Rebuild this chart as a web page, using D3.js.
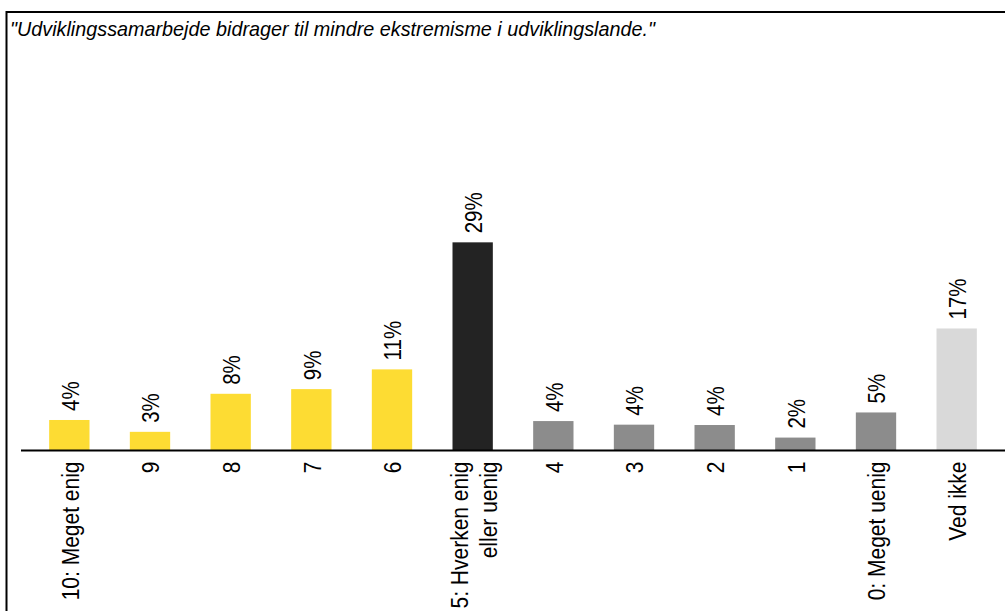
<!DOCTYPE html>
<html>
<head>
<meta charset="utf-8">
<script src="https://cdn.jsdelivr.net/npm/d3@7"></script>
<style>
  body { margin: 0; background: #fff; }
  svg text { font-family: "Liberation Sans", Arial, Helvetica, sans-serif; fill: #000; }
</style>
</head>
<body>
<div id="chart"></div>
<script>
const TITLE = "\"Udviklingssamarbejde bidrager til mindre ekstremisme i udviklingslande.\"";

const categories = [
  "10: Meget enig", "9", "8", "7", "6", "5: Hverken enig\neller uenig",
  "4", "3", "2", "1", "0: Meget uenig", "Ved ikke"
];
const values = [4.25, 2.6, 7.9, 8.55, 11.3, 29.0, 4.1, 3.6, 3.55, 1.8, 5.3, 17.0];
const groups = ["enig", "enig", "enig", "enig", "enig", "neutral",
  "uenig", "uenig", "uenig", "uenig", "uenig", "vedikke"];

let width = 1005
let height = 611
let baseY = 450.5
// glyphs in the reference look a bit wider across the rotated texts
let stretch = 1.15

svg = d3.select("#chart")
  .append("svg")
  .attr("width", width)
  .attr("height", height);

// frame (only the top and left edges fall inside the picture)
svg.append("rect")
  .attr("x", 6.5)
  .attr("y", 12)
  .attr("width", 1200)
  .attr("height", 800)
  .attr("fill", "none")
  .attr("stroke", "#000")
  .attr("stroke-width", 2);

svg.append("text")
  .attr("x", 10)
  .attr("y", 36)
  .attr("textLength", 645)
  .attr("lengthAdjust", "spacingAndGlyphs")
  .style("font-size", "21px")
  .style("font-style", "italic")
  .text(TITLE);

x = d3.scaleBand()
  .domain(categories)
  .range([29, 997])
  .paddingInner(0.5)
  .paddingOuter(0.25);

y = d3.scaleLinear()
  .domain([0, 59])
  .range([baseY, 27]);

color = d3.scaleOrdinal()
  .domain(["enig", "neutral", "uenig", "vedikke"])
  .range(["#fddc33", "#232323", "#8c8c8c", "#d9d9d9"]);

svg.selectAll("rect.bar")
  .data(values)
  .join("rect")
  .attr("class", "bar")
  .attr("x", (d, i) => x(categories[i]))
  .attr("width", x.bandwidth())
  .attr("y", d => y(d))
  .attr("height", d => y(0) - y(d))
  .attr("fill", (d, i) => color(groups[i]));

// value labels
svg.selectAll("text.val")
  .data(values)
  .join("text")
  .attr("class", "val")
  .attr("transform", (d, i) => `translate(${x(categories[i]) + x.bandwidth() / 2 + 1},${y(d) - 9})scale(${stretch},1)rotate(-90)`)
  .attr("dy", "0.35em")
  .style("font-size", "20.5px")
  .text(d => Math.round(d) + "%");

// baseline
svg.append("line")
  .attr("x1", 21)
  .attr("x2", width)
  .attr("y1", baseY)
  .attr("y2", baseY)
  .attr("stroke", "#000")
  .attr("stroke-width", 2);

// category labels
let labels = svg.selectAll("text.cat")
  .data(categories)
  .join("text")
  .attr("class", "cat")
  .attr("transform", d => `translate(${x(d) + x.bandwidth() / 2 + 1},${baseY + 11})scale(${stretch},1)rotate(-90)`)
  .style("font-size", "21px")
  .attr("text-anchor", "end");

labels.each(function(d) {
  let lines = d.split("\n");
  let t = d3.select(this);
  lines.forEach((line, j) => {
    t.append("tspan")
      .attr("x", 0)
      .attr("dy", j == 0 ? (0.35 - (lines.length - 1) * 0.6) + "em" : "1.2em")
      .text(line);
  });
});
</script>
</body>
</html>
